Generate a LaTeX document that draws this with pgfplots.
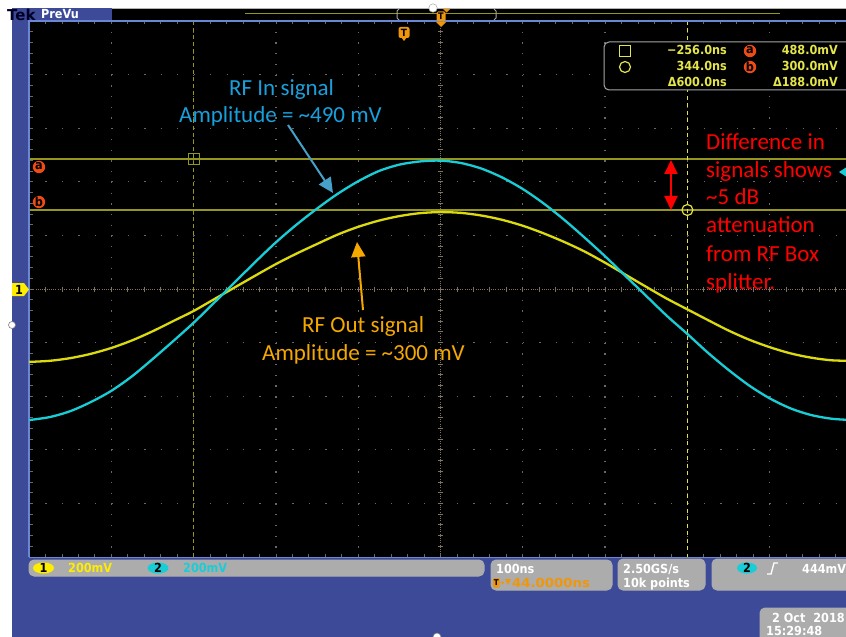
\documentclass[border=0pt]{standalone}
\usepackage{fontspec}
\setmainfont{DejaVu Sans}
\newfontfamily\tek{DejaVu Sans Condensed Bold}
\newfontfamily\carl{Carlito}
\usepackage{graphicx}
\usepackage{pgfplots}
\pgfplotsset{compat=1.18}
\usetikzlibrary{arrows.meta}
\definecolor{tekblue}{RGB}{60,74,152}
\definecolor{gborder}{RGB}{105,135,210}
\definecolor{gridc}{RGB}{105,105,105}
\definecolor{crossc}{RGB}{125,115,95}
\definecolor{chA}{RGB}{218,218,15}
\definecolor{chB}{RGB}{25,205,215}
\definecolor{curol}{RGB}{150,150,30}
\definecolor{curye}{RGB}{225,225,70}
\definecolor{rdy}{RGB}{228,228,75}
\definecolor{tko}{RGB}{240,150,10}
\definecolor{cab}{RGB}{240,75,20}
\definecolor{ann}{RGB}{25,160,220}
\definecolor{annarr}{RGB}{70,160,200}
\definecolor{anno}{RGB}{245,168,0}
\definecolor{annr}{RGB}{255,0,0}
\newcommand\tk{\tek\fontsize{12.5bp}{14bp}\selectfont}
\newcommand\cl{\carl\fontsize{23bp}{27bp}\selectfont}
\begin{document}
\begin{tikzpicture}[x=1bp,y=-1bp]
\useasboundingbox (0,0) rectangle (846,637);
\clip (0,0) rectangle (846,637);
\fill[white] (0,0) rectangle (846,637);
\fill[tekblue] (12,8) rectangle (846,637);
% top band
\fill[black] (112,8) rectangle (846,21);
\draw[gray!60,line width=0.8bp] (112,8.4) -- (846,8.4);
\fill[white,draw=gray!60,line width=0.6bp] (433,8) circle (4.2);
\draw[curol,line width=1.3bp] (245,13.5) -- (780,13.5);
\draw[gray!70,line width=1bp] (399,9) -- (397,11) -- (397,18) -- (399,20);
\draw[gray!70,line width=1bp] (494,9) -- (496,11) -- (496,18) -- (494,20);
% graticule
\fill[black] (29,21) rectangle (852,557);
\foreach \k in {1,...,9}{
  \ifnum\k=5\relax\else
  \pgfmathsetmacro\xx{29+82.3*\k}
  \draw[gridc,line width=1.3bp,dash pattern=on 1.3bp off 9.42bp] (\xx,21) -- (\xx,557);
  \pgfmathsetmacro\yy{21+53.6*\k}
  \draw[gridc,line width=1.3bp,dash pattern=on 1.3bp off 15.16bp] (29,\yy) -- (852,\yy);
  \fi
}
\foreach \k in {1,...,49}{
  \pgfmathsetmacro\xx{29+16.46*\k}
  \draw[gridc,line width=0.8bp] (\xx,21) -- (\xx,24.5) (\xx,557) -- (\xx,553.5);
  \draw[crossc,line width=0.8bp] (\xx,286.5) -- (\xx,291.5);
  \pgfmathsetmacro\yy{21+10.72*\k}
  \draw[gridc,line width=0.8bp] (29,\yy) -- (32.5,\yy);
  \draw[crossc,line width=0.8bp] (438,\yy) -- (443,\yy);
}
\draw[crossc,line width=0.8bp,dash pattern=on 1bp off 1.2bp] (29,289) -- (852,289);
\draw[crossc,line width=0.8bp,dash pattern=on 1bp off 1.2bp] (440.5,21) -- (440.5,557);
% cursors
\draw[curol,line width=1.5bp] (29,159) -- (852,159);
\draw[curol,line width=1.5bp] (29,210) -- (852,210);
\draw[curol,line width=1.5bp,dash pattern=on 4bp off 3bp] (193.6,21) -- (193.6,557);
\draw[curye,line width=1bp,dash pattern=on 4bp off 3.5bp] (687.4,21) -- (687.4,557);
% graticule border
\draw[gborder,line width=1.2bp] (29,557) -- (29,21) -- (852,21);
\draw[gborder,line width=1bp] (29,557) -- (852,557);
% traces
\begin{scope}[x=1bp,y=1bp]
\begin{axis}[at={(29bp,-557bp)},anchor=south west,width=823bp,height=536bp,scale only axis,
  xmin=-500,xmax=500,ymin=-1000,ymax=1000,axis lines=none,ticks=none]
\addplot[chA,line width=2.3bp,smooth,no marks] table {
t v
-500 -272
-475 -268
-450 -258
-425 -242
-400 -220
-375 -192
-350 -158
-325 -120
-300 -82
-275 -38
-250 6
-225 50
-200 93
-175 132
-150 168
-125 203
-100 232
-75 255
-50 272
-25 283
0 287
25 284
50 274
75 258
100 236
125 208
150 176
175 140
200 98
225 53
250 8
275 -36
300 -76
325 -116
350 -155
375 -189
400 -217
425 -240
450 -256
475 -266
500 -268
};
\addplot[chB,line width=2.3bp,smooth,no marks] table {
t v
-500 -489
-475 -478
-450 -456
-425 -422
-400 -380
-375 -326
-350 -262
-325 -195
-300 -126
-275 -51
-250 25
-225 101
-200 174
-175 240
-150 300
-125 355
-100 402
-75 440
-50 464
-25 476
0 479
25 470
50 449
75 416
100 373
125 320
150 259
175 192
200 122
225 48
250 -26
275 -100
300 -168
325 -238
350 -302
375 -360
400 -408
425 -445
450 -470
475 -484
500 -489
};
\end{axis}
\end{scope}
% cursor markers
\draw[curol,line width=1.2bp] (188.5,153.5) rectangle (199.5,164.5);
\draw[curye,line width=1.2bp] (687.4,210) circle (5.5);
% left markers
\fill[cab] (39,167) circle (6.2);
\node[inner sep=0,text=black] at (39,166.5) {\tk a};
\fill[cab] (39,202) circle (6.2);
\node[inner sep=0,text=black] at (39,201.5) {\tk b};
\fill[yellow!95!orange] (12,283) -- (24,283) -- (29,289.5) -- (24,296) -- (12,296) -- cycle;
\node[inner sep=0,text=black] at (19,289.5) {\tk 1};
\fill[white,draw=gray,line width=0.6bp] (12,325) circle (3.5);
\fill[white,draw=gray,line width=0.6bp] (437,637) circle (4);
\fill[chB] (839,172) -- (846,167.5) -- (846,176.5) -- cycle;
% trigger markers
\fill[tko,rounded corners=1.5bp] (436.5,11.5) rectangle (445.5,21.5);
\node[inner sep=0,text=black] at (441,16.5) {\tek\fontsize{9bp}{9bp}\selectfont T};
\fill[tko] (436,22) -- (446,22) -- (441,27) -- cycle;
\fill[tko] (443,9) -- (450,9) -- (446.5,12.5) -- cycle;
\fill[tko,rounded corners=2bp] (398.5,27) rectangle (409.5,38);
\fill[tko] (401,37) -- (407,37) -- (404,41) -- cycle;
\node[inner sep=0,text=black] at (404,32.5) {\tek\fontsize{10bp}{10bp}\selectfont T};
% top-left label
\node[anchor=base west,inner sep=0,text=white] at (41,19) {\tk PreVu};
\node[anchor=base west,inner sep=0,text=black!85!blue] at (7,21) {\fontsize{15bp}{15bp}\selectfont\bfseries Tek};
% readout box
\draw[rounded corners=5bp,draw=gray!70,line width=1bp,fill=black] (604,42) rectangle (870,90);
\draw[rdy,line width=1.2bp] (619.5,45.5) rectangle (630.5,56.5);
\draw[rdy,line width=1.2bp] (625,67) circle (5.5);
\fill[cab] (750,51) circle (6.2);
\node[inner sep=0,text=black] at (750,50.5) {\tk a};
\fill[cab] (750,67) circle (6.2);
\node[inner sep=0,text=black] at (750,66.5) {\tk b};
\begin{scope}[every node/.style={inner sep=0,text=rdy,font=\tk}]
\node[anchor=base east] at (727,55) {−256.0ns};
\node[anchor=base east] at (727,71) {344.0ns};
\node[anchor=base east] at (727,87) {Δ600.0ns};
\node[anchor=base east] at (838,55) {488.0mV};
\node[anchor=base east] at (838,71) {300.0mV};
\node[anchor=base east] at (838,87) {Δ188.0mV};
\end{scope}
% bottom boxes
\begin{scope}[rounded corners=5bp,draw=gray!65,line width=1bp]
\draw[fill=black,gray!65] (29,560) rectangle (484,576);
\draw[fill=black,gray!65] (491,560) rectangle (612,590);
\draw[fill=black,gray!65] (618,559) rectangle (705,590);
\draw[fill=black,gray!65] (712,559) rectangle (880,590);
\draw[fill=black,gray!65] (760,608) rectangle (880,660);
\end{scope}
\fill[yellow!95!orange] (43.5,568) ellipse (10.5 and 5.6);
\node[inner sep=0,text=black] at (43.5,568) {\tk 1};
\node[anchor=base west,inner sep=0,text=yellow!95!orange] at (68,572.5) {\tk 200mV};
\fill[chB] (158,568) ellipse (10.5 and 5.6);
\node[inner sep=0,text=black] at (158,568) {\tk 2};
\node[anchor=base west,inner sep=0,text=chB] at (183,572.5) {\tk 200mV};
\node[anchor=base west,inner sep=0,text=white] at (496,573) {\tk 100ns};
\fill[tko,rounded corners=1bp] (493,578) rectangle (499.5,587.5);
\node[inner sep=0,text=black] at (496.3,582.8) {\tek\fontsize{8bp}{8bp}\selectfont T};
\draw[tko,line width=1.2bp,-{Triangle[length=2.5bp,width=3bp]}] (499.8,582.8) -- (504.5,582.8);
\fill[tko] (505,579) -- (511,579) -- (508,585) -- cycle;
\node[anchor=base west,inner sep=0,text=tko] at (512,587) {\scalebox{1.18}[1]{\tk 44.0000ns}};
\node[anchor=base west,inner sep=0,text=white] at (623,573) {\tk 2.50GS/s};
\node[anchor=base west,inner sep=0,text=white] at (623,587) {\tk 10k points};
\fill[chB] (747,568) ellipse (10 and 5.6);
\node[inner sep=0,text=black] at (747,568) {\tk 2};
\draw[white,line width=1.3bp] (767,574) -- (771,574) -- (774,563) -- (778,563);
\node[anchor=base west,inner sep=0,text=white] at (802,573) {\tk 444mV};
\node[anchor=base west,inner sep=0,text=white] at (772,622) {\tk 2 Oct\ \ 2018};
\node[anchor=base west,inner sep=0,text=white] at (766,635) {\tk 15:29:48};
% annotations
\node[anchor=base west,inner sep=0,text=ann] at (229,96) {\cl RF In signal};
\node[anchor=base west,inner sep=0,text=ann] at (179,123) {\cl Amplitude = \textasciitilde490 mV};
\draw[annarr,line width=2bp,-{Triangle[length=15bp,width=14bp]}] (288,125) -- (333,193);
\node[anchor=base west,inner sep=0,text=anno] at (302,332) {\cl RF Out signal};
\node[anchor=base west,inner sep=0,text=anno] at (262,360) {\cl Amplitude = \textasciitilde300 mV};
\draw[anno,line width=2bp,-{Triangle[length=15bp,width=14bp]}] (363,310) -- (357,242);
\draw[annr,line width=2bp,{Triangle[length=14bp,width=13bp]}-{Triangle[length=14bp,width=13bp]}] (671,160) -- (671,210);
\begin{scope}[every node/.style={anchor=base west,inner sep=0,text=annr,font=\cl}]
\node at (706,150) {Difference in};
\node at (706,177.5) {signals shows};
\node at (706,205) {\textasciitilde5 dB};
\node at (706,233) {attenuation};
\node at (706,261) {from RF Box};
\node at (706,289) {splitter.};
\end{scope}
\end{tikzpicture}
\end{document}
